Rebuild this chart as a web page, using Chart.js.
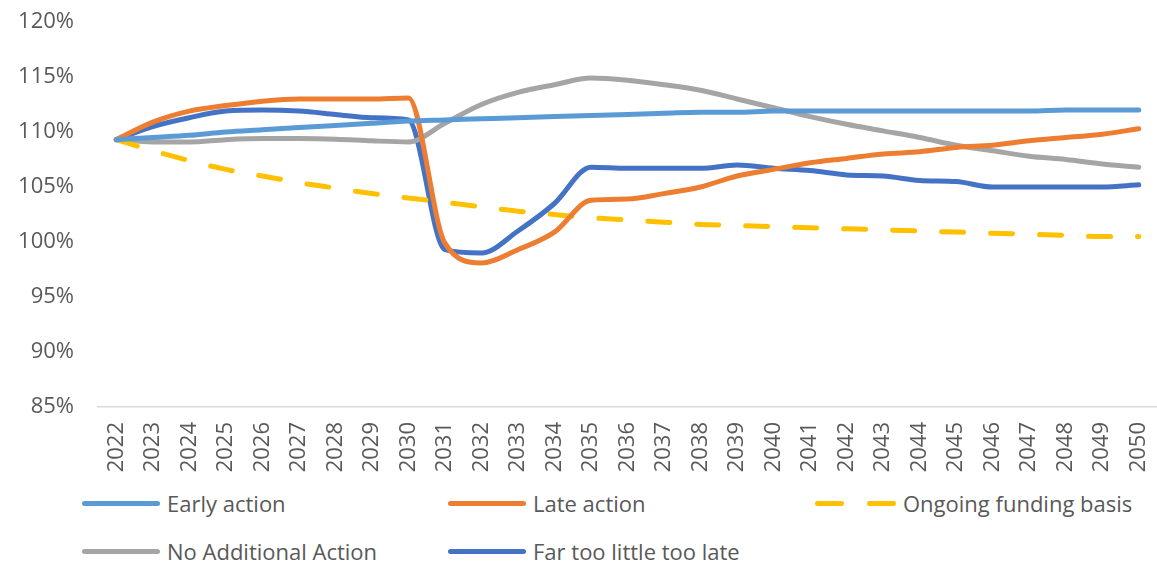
<!DOCTYPE html>
<html>
<head>
<meta charset="utf-8">
<script src="https://cdn.jsdelivr.net/npm/chart.js@4.4.1/dist/chart.umd.min.js"></script>
<style>
  body { margin: 0; background: #fff; width: 1157px; height: 564px; overflow: hidden; position: relative; }
  #chart { position: absolute; left: 0; top: 0; }
  .leg { position: absolute; display: flex; align-items: center; font-family: "Open Sans", sans-serif; font-size: 22px; color: #595959; white-space: nowrap; }
  .leg .ln { width: 78px; height: 5px; border-radius: 3px; margin-right: 7px; }
  .leg .dash { width: 29px; height: 5px; border-radius: 3px; }
</style>
</head>
<body>
<canvas id="chart" width="1157" height="480"></canvas>
<div id="legend"></div>
<script>
// Funding level projections, %
const years = [2022,2023,2024,2025,2026,2027,2028,2029,2030,2031,2032,2033,2034,2035,2036,2037,2038,2039,2040,2041,2042,2043,2044,2045,2046,2047,2048,2049,2050];

const earlyAction = [109.3,109.5,109.7,110.0,110.2,110.4,110.6,110.8,111.0,111.1,111.2,111.3,111.4,111.5,111.6,111.7,111.8,111.8,111.9,111.9,111.9,111.9,111.9,111.9,111.9,111.9,112.0,112.0,112.0];
const lateAction = [109.3,110.9,111.9,112.4,112.8,113.0,113.0,113.0,113.1,99.9,98.1,99.3,100.9,103.8,103.9,104.4,105.0,106.0,106.6,107.2,107.6,108.0,108.2,108.6,108.8,109.2,109.5,109.8,110.3];
const ongoingFunding = [109.3,108.3,107.4,106.6,106.0,105.4,104.9,104.4,104.0,103.6,103.2,102.8,102.5,102.2,102.0,101.8,101.6,101.5,101.4,101.3,101.2,101.1,101.0,100.9,100.8,100.7,100.6,100.5,100.5];
const noAdditional = [109.3,109.1,109.1,109.3,109.4,109.4,109.35,109.2,109.1,110.8,112.5,113.6,114.3,114.9,114.7,114.3,113.8,113.0,112.2,111.4,110.7,110.1,109.5,108.8,108.3,107.8,107.5,107.1,106.8];
const farTooLittle = [109.3,110.5,111.3,111.9,112.0,111.9,111.6,111.3,111.1,99.3,99.0,101.0,103.5,106.8,106.7,106.7,106.7,107.0,106.7,106.5,106.1,106.0,105.6,105.5,105.0,105.0,105.0,105.0,105.2];

const yMin = 85, yMax = 120, yStep = 5;

const series = [
    { label: 'Early action', data: earlyAction, color: '#5B9BD5', dashed: false },
    { label: 'Late action', data: lateAction, color: '#ED7D31', dashed: false },
    { label: 'Ongoing funding basis', data: ongoingFunding, color: '#FFC000', dashed: true },
    { label: 'No Additional Action', data: noAdditional, color: '#A5A5A5', dashed: false },
    { label: 'Far too little too late', data: farTooLittle, color: '#4472C4', dashed: false }
];

// legend slots (left, top) in the same order as series
const legendSlots = [[82,488],[448,488],[815,488],[82,536],[448,536]];

const tickFont = { family: 'Open Sans', size: 22 };

const ctx = document.getElementById('chart').getContext('2d');
const myChart = new Chart(ctx, {
    type: 'line',
    data: {
        labels: years,
        datasets: series.map(s => ({
            label: s.label,
            data: s.data,
            borderColor: s.color,
            backgroundColor: s.color,
            borderWidth: 5,
            borderDash: s.dashed ? [22, 27] : [],
            borderCapStyle: 'round',
            borderJoinStyle: 'round',
            cubicInterpolationMode: 'monotone',
            pointRadius: 0,
            fill: false
        }))
    },
    options: {
        responsive: false,
        animation: false,
        layout: { padding: { top: 22, right: 0, left: 0, bottom: 0 } },
        plugins: {
            legend: { display: false },
            tooltip: { enabled: false }
        },
        scales: {
            x: {
                offset: true,
                grid: { display: false, drawTicks: true, tickLength: 8 },
                border: { display: true, color: '#D9D9D9', width: 1.5 },
                ticks: {
                    color: '#595959',
                    font: tickFont,
                    minRotation: 90,
                    maxRotation: 90,
                    autoSkip: false,
                    padding: 7
                },
                afterFit: scale => {
                    scale.height = 73;
                    scale.paddingRight = 0;
                    scale.paddingLeft = 0;
                }
            },
            y: {
                min: yMin,
                max: yMax,
                grid: { display: false },
                border: { display: false },
                ticks: {
                    stepSize: yStep,
                    color: '#595959',
                    font: tickFont,
                    padding: 16,
                    callback: v => v + '%'
                },
                afterFit: scale => {
                    scale.width = 98;
                    scale.paddingTop = 0;
                    scale.paddingBottom = 0;
                }
            }
        }
    }
});

// legend built from the series
const legend = document.getElementById('legend');
series.forEach((s, i) => {
    const item = document.createElement('div');
    item.className = 'leg';
    item.style.left = legendSlots[i][0] + 'px';
    item.style.top = legendSlots[i][1] + 'px';
    if (s.dashed) {
        const box = document.createElement('div');
        box.style.cssText = 'display:flex;width:81px;justify-content:space-between;margin-right:7px;';
        for (let k = 0; k < 2; k++) {
            const d = document.createElement('div');
            d.className = 'dash';
            d.style.background = s.color;
            box.appendChild(d);
        }
        item.appendChild(box);
    } else {
        const ln = document.createElement('div');
        ln.className = 'ln';
        ln.style.background = s.color;
        item.appendChild(ln);
    }
    const txt = document.createElement('span');
    txt.textContent = s.label;
    item.appendChild(txt);
    legend.appendChild(item);
});
</script>
</body>
</html>
